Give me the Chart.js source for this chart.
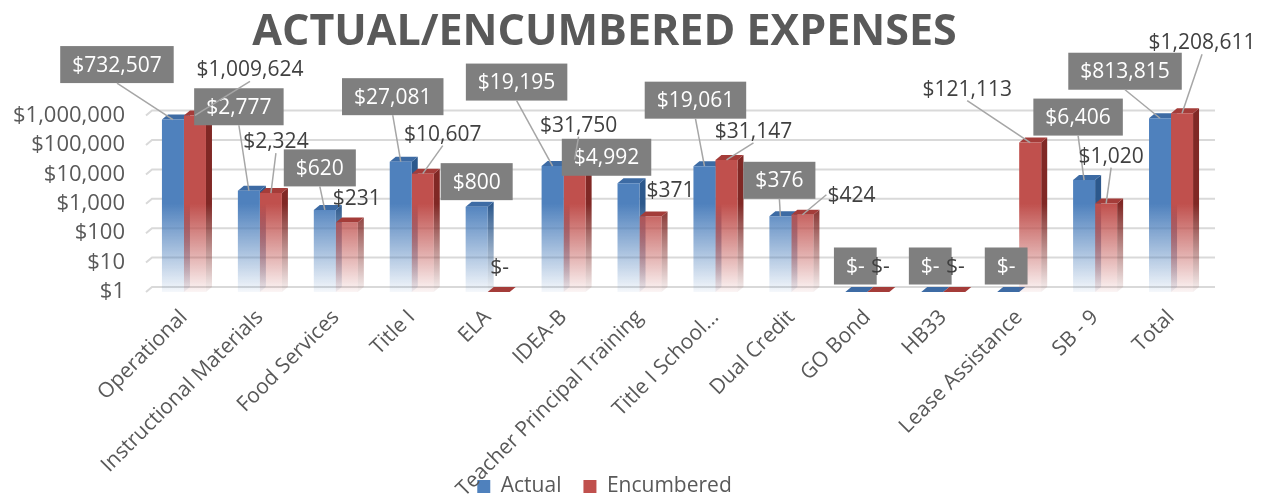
<!doctype html>
<html>

<head>
	<title>Actual/Encumbered Expenses</title>
	<script src="https://cdn.jsdelivr.net/npm/chart.js@4.4.1/dist/chart.umd.min.js"></script>
	<style>
		body {
			margin: 0;
			background: #fff;
		}
		#wrap {
			width: 1270px;
			height: 499px;
		}
	</style>
</head>

<body>
	<div id="wrap">
		<canvas id="canvas"></canvas>
	</div>
	<script>
		const categories = ['Operational', 'Instructional Materials', 'Food Services', 'Title I', 'ELA', 'IDEA-B',
			'Teacher Principal Training', 'Title I School...', 'Dual Credit', 'GO Bond', 'HB33', 'Lease Assistance', 'SB - 9', 'Total'];
		const actual = [732507, 2777, 620, 27081, 800, 19195, 4992, 19061, 376, 0, 0, 0, 6406, 813815];
		const encumbered = [1009624, 2324, 231, 10607, 0, 31750, 371, 31147, 424, 0, 0, 121113, 1020, 1208611];
		const yTicks = [1, 10, 100, 1000, 10000, 100000, 1000000];

		// where each value label sits, relative to the top of its bar (px)
		const actualLabelOffsets = [[-56, -55], [-10, -84], [-5, -42], [-8, -65], [0, -25], [-36, -84], [-22, -26],
			[-9, -66], [-1, -36], [-1, -26], [-2, -26], [-2, -26], [-6, -63], [-35, -47]];
		const encumberedLabelOffsets = [[55, -46], [5, -52], [10, -24], [20, -40], [1, -25], [4, -35], [20, -26],
			[27, -29], [49, -20], [2, -26], [1, -26], [-63, -54], [5, -48], [20, -71]];

		const frontRgb = ['79,129,189', '192,80,77'];
		const sideRgb = ['44,88,140', '128,40,37'];
		const topColors = ['#3d6ba4', '#a43c39'];
		const depthX = 6;
		const depthY = 5;
		const font = "'Open Sans', sans-serif";

		const money = (v) => v === 0 ? '$-' : '$' + v.toLocaleString('en-US');

		function fade(chart, rgb) {
			const y = chart.scales.y;
			if (!chart.chartArea || !y) {
				return 'rgb(' + rgb + ')';
			}
			const g = chart.ctx.createLinearGradient(0, y.getPixelForValue(1), 0, y.getPixelForValue(1000));
			g.addColorStop(0, 'rgba(' + rgb + ',0.06)');
			g.addColorStop(1, 'rgba(' + rgb + ',1)');
			return g;
		}

		function poly(ctx, pts) {
			ctx.beginPath();
			ctx.moveTo(pts[0][0], pts[0][1]);
			pts.slice(1).forEach(p => ctx.lineTo(p[0], p[1]));
			ctx.closePath();
			ctx.fill();
		}

		const threeD = {
			id: 'threeD',
			afterLayout(chart) {
				// let the long rotated category names run down over the legend, as in the original
				chart.scales.x.bottom = chart.height;
			},
			beforeDatasetsDraw(chart) {
				const {ctx, chartArea, scales: {y}} = chart;
				ctx.save();
				ctx.strokeStyle = '#d9d9d9';
				ctx.lineWidth = 2;
				yTicks.forEach(v => {
					const py = y.getPixelForValue(v);
					ctx.beginPath();
					ctx.moveTo(chartArea.left, py);
					ctx.lineTo(chartArea.left + depthX, py - depthY);
					ctx.lineTo(chartArea.right + depthX, py - depthY);
					ctx.stroke();
				});
				categories.forEach((c, i) => {
					chart.data.datasets.forEach((ds, d) => {
						const bar = chart.getDatasetMeta(d).data[i];
						const l = bar.x - bar.width / 2;
						const r = bar.x + bar.width / 2;
						ctx.fillStyle = fade(chart, sideRgb[d]);
						poly(ctx, [[r, bar.y], [r + depthX, bar.y - depthY], [r + depthX, bar.base - depthY], [r, bar.base]]);
						ctx.fillStyle = topColors[d];
						poly(ctx, [[l, bar.y], [r, bar.y], [r + depthX, bar.y - depthY], [l + depthX, bar.y - depthY]]);
					});
				});
				ctx.restore();
			}
		};

		const dataLabels = {
			id: 'dataLabels',
			afterDatasetsDraw(chart) {
				const ctx = chart.ctx;
				ctx.save();
				ctx.font = '21px ' + font;
				ctx.textAlign = 'center';
				ctx.textBaseline = 'middle';
				const offsets = [actualLabelOffsets, encumberedLabelOffsets];
				const items = [];
				chart.data.datasets.forEach((ds, d) => {
					const meta = chart.getDatasetMeta(d);
					ds.data.forEach((v, i) => {
						const bar = meta.data[i];
						const text = money(v);
						const w = ctx.measureText(text).width + (d === 0 ? 24 : 2);
						const h = d === 0 ? 37 : 24;
						items.push({
							d, text, w, h,
							cx: bar.x + offsets[d][i][0],
							cy: bar.y + offsets[d][i][1],
							ax: bar.x,
							ay: bar.y
						});
					});
				});

				items.filter(it => it.d === 0).forEach(it => {
					ctx.fillStyle = '#7f7f7f';
					ctx.fillRect(it.cx - it.w / 2, it.cy - it.h / 2, it.w, it.h);
					ctx.fillStyle = '#ffffff';
					ctx.fillText(it.text, it.cx, it.cy + 1);
				});

				// leader lines
				ctx.strokeStyle = '#a6a6a6';
				ctx.lineWidth = 1.5;
				items.forEach(it => {
					const left = it.cx - it.w / 2, right = it.cx + it.w / 2;
					const top = it.cy - it.h / 2, bottom = it.cy + it.h / 2;
					const px = Math.min(Math.max(it.ax, left), right);
					const py = Math.min(Math.max(it.ay, top), bottom);
					if (Math.hypot(it.ax - px, it.ay - py) <= 16) {
						return;
					}
					let sx = it.cx, sy = bottom;
					const below = it.ay - bottom;
					const dx = it.ax - it.cx;
					if (below < 0.3 * Math.abs(dx)) {
						sx = dx < 0 ? left : right;
						sy = it.cy;
					}
					ctx.beginPath();
					ctx.moveTo(sx, sy);
					ctx.lineTo(it.ax, it.ay);
					ctx.stroke();
				});

				ctx.fillStyle = '#404040';
				items.filter(it => it.d === 1).forEach(it => {
					ctx.fillText(it.text, it.cx, it.cy + 1);
				});
				ctx.restore();
			}
		};

		window.onload = function() {
			Chart.defaults.font.family = font;
			const ctx = document.getElementById('canvas').getContext('2d');
			window.myBar = new Chart(ctx, {
				type: 'bar',
				data: {
					labels: categories,
					datasets: [{
						label: 'Actual',
						data: actual,
						backgroundColor: (c) => fade(c.chart, frontRgb[0]),
						clip: false
					}, {
						label: 'Encumbered',
						data: encumbered,
						backgroundColor: (c) => fade(c.chart, frontRgb[1]),
						clip: false
					}]
				},
				options: {
					responsive: true,
					maintainAspectRatio: false,
					animation: false,
					categoryPercentage: 0.58,
					barPercentage: 1,
					layout: {
						padding: {left: 0, right: 61, top: 0, bottom: -8}
					},
					scales: {
						x: {
							grid: {display: false, drawTicks: false},
							border: {display: false},
							ticks: {
								autoSkip: false,
								maxRotation: 45,
								minRotation: 45,
								padding: 13,
								color: '#595959',
								font: {size: 21}
							},
							afterFit(scale) {
								scale.height = 162;
							}
						},
						y: {
							type: 'logarithmic',
							min: 1,
							max: 1000000,
							grid: {display: false, drawTicks: false},
							border: {display: false},
							afterBuildTicks(scale) {
								scale.ticks = yTicks.map(v => ({value: v}));
							},
							ticks: {
								autoSkip: false,
								padding: 21,
								color: '#595959',
								font: {size: 22},
								callback: (v) => money(v)
							},
							afterFit(scale) {
								scale.width = 146;
							}
						}
					},
					plugins: {
						title: {
							display: true,
							text: 'ACTUAL/ENCUMBERED EXPENSES',
							color: '#595959',
							font: {size: 43, weight: 'bold'},
							padding: {top: 7, bottom: 57}
						},
						legend: {
							position: 'bottom',
							labels: {
								boxWidth: 13,
								boxHeight: 13,
								padding: 22,
								color: '#595959',
								font: {size: 21},
								generateLabels: (chart) => chart.data.datasets.map((ds, i) => ({
									text: ds.label,
									fillStyle: 'rgb(' + frontRgb[i] + ')',
									strokeStyle: 'rgb(' + frontRgb[i] + ')',
									lineWidth: 0,
									fontColor: '#595959',
									datasetIndex: i,
									hidden: false
								}))
							}
						},
						tooltip: {enabled: false}
					}
				},
				plugins: [threeD, dataLabels]
			});
		};
	</script>
</body>

</html>
